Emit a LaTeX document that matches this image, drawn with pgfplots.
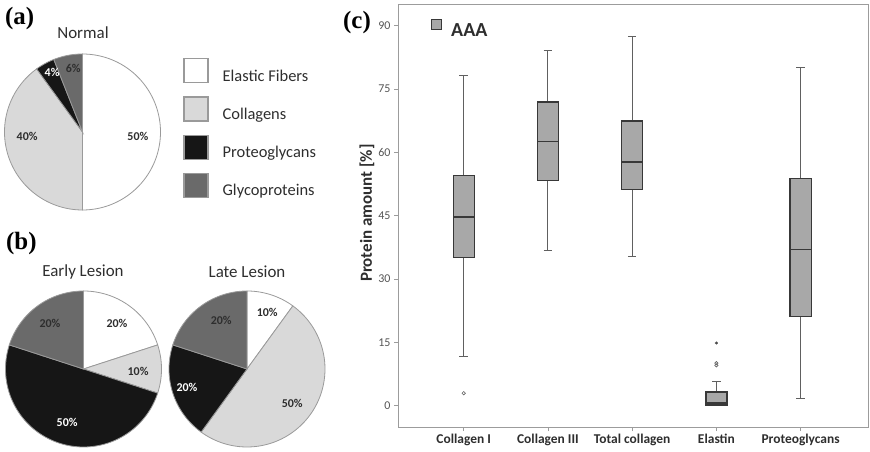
\documentclass[border=0pt]{standalone}
\usepackage{pgfplots}
\pgfplotsset{compat=1.18}
\usepgfplotslibrary{statistics}
\usepackage{fontspec}
\setmainfont{Carlito}
\newfontfamily\panelfont{Liberation Serif}
\definecolor{cWhite}{HTML}{FFFFFF}
\definecolor{cLight}{HTML}{D9D9D9}
\definecolor{cBlack}{HTML}{161616}
\definecolor{cDark}{HTML}{6A6A6A}
\definecolor{cEdge}{HTML}{9A9A9A}
\definecolor{cBox}{HTML}{A8A8A8}
\definecolor{cBoxEdge}{HTML}{383838}
\definecolor{cWhisk}{HTML}{606060}
\definecolor{cAxis}{HTML}{9C9C9C}
\definecolor{cTick}{HTML}{555555}
\definecolor{cText}{HTML}{2E2E2E}

\pgfplotsset{
  slice/.style={draw=cEdge, line width=0.8bp, samples=90},
  pieaxis/.style={scale only axis, width=156bp, height=156bp,
    xmin=-1, xmax=1, ymin=-1, ymax=1, hide axis, clip=false, anchor=center},
}
\tikzset{plabel/.style={font=\bfseries\fontsize{12}{12}\selectfont, text=cText, inner sep=0pt}}

% percentages: elastic fibers, collagens, proteoglycans, glycoproteins
\newcommand{\pieslices}[4]{%
  \pgfmathsetmacro\aB{90-3.6*(#1)}%
  \pgfmathsetmacro\aC{\aB-3.6*(#2)}%
  \pgfmathsetmacro\aD{\aC-3.6*(#3)}%
  \pgfmathsetmacro\aE{\aD-3.6*(#4)}%
  \addplot[slice, fill=cWhite, domain=\aB:90] ({cos(x)},{sin(x)}) -- (axis cs:0,0) -- cycle;
  \addplot[slice, fill=cLight, domain=\aC:\aB] ({cos(x)},{sin(x)}) -- (axis cs:0,0) -- cycle;
  \addplot[slice, fill=cBlack, domain=\aD:\aC] ({cos(x)},{sin(x)}) -- (axis cs:0,0) -- cycle;
  \addplot[slice, fill=cDark, domain=\aE:\aD] ({cos(x)},{sin(x)}) -- (axis cs:0,0) -- cycle;
}

\begin{document}
\begin{tikzpicture}
\path[use as bounding box] (0bp,0bp) rectangle (870bp,452bp);

% ---------- (a) Normal ----------
\begin{axis}[pieaxis, at={(82.5bp,320bp)},
  legend style={draw=none, fill=none, at={(axis cs:1.29,0.95)}, anchor=north west,
    inner sep=0pt, row sep=13bp, font=\fontsize{16.5}{17}\selectfont, text=cText,
    nodes={inner sep=0pt}, /tikz/every odd column/.append style={column sep=14bp}},
  legend cell align=left,
  legend image code/.code={\draw[#1, line width=1.3bp] (0bp,-6.7bp) rectangle (24bp,17.3bp);}]
\pieslices{50}{40}{4}{6}
\legend{Elastic Fibers, Collagens, Proteoglycans, Glycoproteins}
\node[plabel] at (axis cs:0.71,-0.06) {50\%};
\node[plabel] at (axis cs:-0.71,-0.06) {40\%};
\node[plabel, text=white] at (axis cs:-0.39,0.76) {4\%};
\node[plabel] at (axis cs:-0.12,0.82) {6\%};
\end{axis}

% ---------- (b) Early Lesion ----------
\begin{axis}[pieaxis, at={(83.5bp,83bp)}]
\pieslices{20}{10}{50}{20}
\node[plabel] at (axis cs:0.43,0.58) {20\%};
\node[plabel] at (axis cs:0.70,-0.03) {10\%};
\node[plabel, text=white] at (axis cs:-0.21,-0.69) {50\%};
\node[plabel] at (axis cs:-0.43,0.58) {20\%};
\end{axis}

% ---------- (b) Late Lesion ----------
\begin{axis}[pieaxis, at={(247bp,83bp)}]
\pieslices{10}{50}{20}{20}
\node[plabel] at (axis cs:0.26,0.72) {10\%};
\node[plabel] at (axis cs:0.58,-0.44) {50\%};
\node[plabel, text=white] at (axis cs:-0.77,-0.24) {20\%};
\node[plabel] at (axis cs:-0.33,0.62) {20\%};
\end{axis}

% ---------- (c) Box plot ----------
\begin{axis}[
  at={(398bp,25bp)}, anchor=south west, scale only axis, width=470bp, height=422.5bp,
  xmin=0.22, xmax=5.8, ymin=-5, ymax=95,
  axis line style={cAxis, line width=1bp},
  tick pos=left, tick align=outside, major tick length=4bp,
  tick style={cAxis, line width=0.8bp},
  xtick={1,2,3,4,5},
  xticklabels={Collagen I, Collagen III, Total collagen, Elastin, Proteoglycans},
  ytick={0,15,30,45,60,75,90},
  /pgf/number format/assume math mode=true,
  yticklabel style={font=\fontsize{12}{12}\selectfont, text=cTick},
  xticklabel style={font=\bfseries\fontsize{13.5}{14}\selectfont, text=cText},
  ylabel={Protein amount [\%]},
  ylabel style={font=\bfseries\fontsize{17}{17}\selectfont, text=cText,
    at={(rel axis cs:-0.066,0.506)}, anchor=center},
  boxplot/draw direction=y,
  boxplot/box extend=0.25, boxplot/whisker extend=0.1,
  boxplot/every box/.style={draw=cBoxEdge, fill=cBox, line width=1.3bp},
  boxplot/every whisker/.style={draw=cWhisk, line width=1bp},
  boxplot/every median/.style={draw=cBoxEdge, line width=1.3bp},
  legend style={draw=none, fill=none, at={(rel axis cs:0.0702,0.944)}, anchor=west,
    inner sep=0pt, font=\bfseries\fontsize{20}{20}\selectfont, text=cText,
    nodes={inner sep=0pt}, /tikz/every odd column/.append style={column sep=9bp}},
]
\addlegendimage{legend image code/.code={\draw[fill=cBox, draw=cBoxEdge, line width=1bp] (0bp,1bp) rectangle (10bp,11bp);}}
\addlegendentry{AAA}

\addplot[cWhisk, mark=o, mark size=1.7bp, mark options={line width=0.6bp},
  boxplot prepared={draw position=1, lower whisker=11.7, lower quartile=35.1,
  median=44.7, upper quartile=54.5, upper whisker=78.3}]
  table[row sep=\\, y index=0] {data\\ 3.0\\};
\addplot[cWhisk, mark=o,
  boxplot prepared={draw position=2, lower whisker=36.8, lower quartile=53.4,
  median=62.6, upper quartile=71.9, upper whisker=84.0}]
  coordinates {};
\addplot[cWhisk, mark=o,
  boxplot prepared={draw position=3, lower whisker=35.3, lower quartile=51.2,
  median=57.7, upper quartile=67.4, upper whisker=87.4}]
  coordinates {};
\addplot[cWhisk, mark=o, mark size=1.7bp, mark options={line width=0.6bp},
  boxplot prepared={draw position=4, lower whisker=0.1, lower quartile=0.2,
  median=0.7, upper quartile=3.3, upper whisker=5.8}]
  table[row sep=\\, y index=0] {data\\ 10.1\\ 9.6\\};
\addplot[cWhisk, mark=o,
  boxplot prepared={draw position=5, lower whisker=1.8, lower quartile=21.1,
  median=37.0, upper quartile=53.8, upper whisker=80.1}]
  coordinates {};
\addplot[only marks, mark=asterisk, mark size=1.6bp, cBoxEdge] coordinates {(4,14.9)};
\end{axis}

% ---------- titles and panel labels ----------
\node[font=\fontsize{17}{17}\selectfont, text=cText] at (83bp,419bp) {Normal};
\node[font=\fontsize{17}{17}\selectfont, text=cText] at (83bp,180bp) {Early Lesion};
\node[font=\fontsize{17}{17}\selectfont, text=cText] at (247bp,180bp) {Late Lesion};
\node[font=\panelfont\bfseries\fontsize{25}{25}\selectfont, anchor=west, inner sep=0pt] at (5bp,433.5bp) {(a)};
\node[font=\panelfont\bfseries\fontsize{25}{25}\selectfont, anchor=west, inner sep=0pt] at (6bp,208bp) {(b)};
\node[font=\panelfont\bfseries\fontsize{25}{25}\selectfont, anchor=west, inner sep=0pt] at (343bp,429bp) {(c)};
\end{tikzpicture}
\end{document}
